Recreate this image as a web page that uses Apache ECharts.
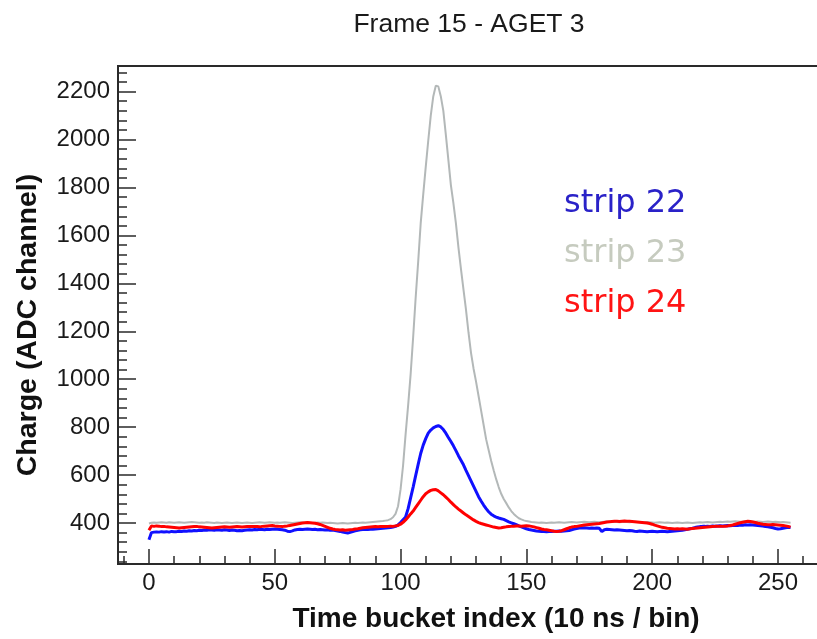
<!DOCTYPE html>
<html>
<head>
<meta charset="utf-8">
<script src="https://cdn.jsdelivr.net/npm/echarts@6/dist/echarts.min.js"></script>
<style>
  html, body { margin: 0; padding: 0; background: #ffffff; }
  #chart { width: 817px; height: 639px; }
</style>
</head>
<body>
<div id="chart"></div>
<script>
// ---- Data ----
const chartTitle = 'Frame 15 - AGET 3';
const xTitle = 'Time bucket index (10 ns / bin)';
const yTitle = 'Charge (ADC channel)';
const seriesNames = ['strip 22', 'strip 23', 'strip 24'];

const xTickLabels = [0, 50, 100, 150, 200, 250];
const xMinorTicks = [-10, 0, 10, 20, 30, 40, 50, 60, 70, 80, 90, 100, 110, 120, 130, 140, 150, 160, 170, 180, 190, 200, 210, 220, 230, 240, 250, 260];
const yTickLabels = [400, 600, 800, 1000, 1200, 1400, 1600, 1800, 2000, 2200];
const yMinorTicks = [240, 280, 320, 360, 400, 440, 480, 520, 560, 600, 640, 680, 720, 760, 800, 840, 880, 920, 960, 1000, 1040, 1080, 1120, 1160, 1200, 1240, 1280, 1320, 1360, 1400, 1440, 1480, 1520, 1560, 1600, 1640, 1680, 1720, 1760, 1800, 1840, 1880, 1920, 1960, 2000, 2040, 2080, 2120, 2160, 2200, 2240, 2280];

// strip 22 (blue), time buckets 0..255
const strip22 = [
  330, 360, 362, 363, 362, 364, 363, 364, 362, 365,
  364, 364, 366, 365, 367, 366, 368, 367, 369, 368,
  370, 369, 371, 370, 372, 371, 370, 372, 371, 370,
  372, 371, 369, 371, 370, 368, 369, 368, 370, 371,
  372, 371, 373, 372, 374, 373, 372, 374, 373, 374,
  375, 374, 373, 372, 370, 366, 364, 367, 371, 373,
  374, 373, 374, 375, 374, 373, 374, 372, 373, 372,
  371, 372, 370, 371, 369, 367, 365, 362, 360, 358,
  361, 364, 367, 370, 372, 373, 374, 373, 374, 374,
  375, 376, 377, 378, 379, 380, 381, 383, 386, 392,
  402, 414, 425, 460, 505, 550, 598, 645, 690, 725,
  752, 775, 788, 797, 803, 806, 801, 790, 775, 757,
  740, 722, 702, 681, 662, 643, 620, 598, 576, 554,
  532, 510, 492, 475, 460, 447, 437, 430, 425, 421,
  418, 415, 410, 405, 401, 397, 393, 388, 384, 380,
  376, 373, 371, 369, 367, 366, 365, 365, 364, 365,
  365, 366, 366, 367, 366, 367, 368, 369, 372, 375,
  377, 379, 379, 380, 379, 378, 379, 378, 379, 378,
  364, 372, 374, 373, 372, 371, 372, 371, 370, 369,
  368, 369, 368, 366, 365, 367, 366, 365, 364, 365,
  366, 365, 364, 365, 366, 365, 364, 365, 366, 367,
  368, 369, 370, 372, 374, 376, 378, 381, 383, 385,
  386, 386, 387, 386, 388, 387, 388, 389, 388, 389,
  390, 389, 390, 391, 390, 392, 391, 393, 392, 393,
  392, 391, 390, 389, 387, 385, 384, 382, 380, 377,
  375, 376, 378, 380, 382, 381
];

// strip 23 (grey)
const strip23 = [
  398, 401, 402, 401, 402, 403, 402, 401, 403, 402,
  401, 402, 403, 402, 401, 402, 403, 404, 403, 402,
  401, 402, 401, 403, 402, 401, 400, 402, 401, 400,
  401, 402, 401, 400, 401, 402, 401, 400, 401, 402,
  401, 400, 401, 402, 403, 402, 401, 402, 403, 402,
  401, 402, 401, 402, 403, 402, 401, 400, 401, 402,
  403, 402, 401, 402, 401, 400, 401, 402, 401, 402,
  401, 400, 401, 400, 399, 398, 399, 400, 399, 398,
  399, 400, 401, 400, 401, 402, 401, 402, 403, 404,
  405, 406, 407, 408, 410, 412, 416, 424, 438, 470,
  540, 640, 770, 890, 1020, 1175, 1340, 1490, 1650, 1770,
  1885, 1995, 2100, 2180, 2225, 2222, 2180, 2120, 2020, 1915,
  1810, 1735, 1650, 1550, 1460, 1375, 1290, 1195, 1110, 1045,
  990, 930, 870, 810, 750, 705, 660, 620, 583, 550,
  522, 500, 483, 465, 450, 438, 428, 420, 415, 411,
  408, 406, 404, 403, 402, 401, 402, 401, 400, 401,
  402, 401, 402, 403, 402, 401, 402, 403, 404, 403,
  402, 403, 404, 405, 404, 403, 404, 405, 404, 403,
  404, 405, 406, 405, 404, 405, 404, 403, 404, 405,
  404, 403, 404, 405, 404, 403, 402, 403, 404, 403,
  402, 401, 402, 403, 402, 401, 402, 401, 400, 401,
  402, 401, 400, 401, 402, 401, 400, 401, 402, 403,
  402, 403, 404, 403, 402, 403, 404, 405, 404, 405,
  406, 405, 406, 407, 406, 405, 406, 407, 408, 407,
  406, 405, 406, 405, 404, 405, 406, 405, 404, 405,
  404, 403, 404, 403, 402, 401
];

// strip 24 (red)
const strip24 = [
  370, 388, 386, 388, 387, 385, 386, 384, 383, 382,
  381, 380, 379, 380, 381, 382, 383, 384, 385, 386,
  384, 383, 382, 381, 380, 379, 380, 381, 382, 383,
  384, 383, 382, 383, 384, 385, 384, 383, 384, 385,
  386, 385, 386, 385, 384, 386, 387, 388, 389, 390,
  388, 387, 386, 385, 387, 388, 390, 392, 394, 396,
  398, 400, 401, 402, 401, 400, 399, 397, 394, 390,
  386, 382, 378, 375, 373, 372, 371, 372, 370, 371,
  372, 373, 375, 376, 378, 380, 381, 382, 383, 384,
  385, 384, 385, 386, 385, 386, 387, 386, 388, 390,
  395, 403, 413, 425, 438, 450, 465, 480, 495, 510,
  522, 530, 536, 539, 540, 534, 526, 518, 508, 498,
  487, 477, 467, 458, 450, 442, 434, 427, 420, 413,
  407, 402, 398, 395, 392, 389, 386, 383, 381, 379,
  380, 382, 384, 385, 386, 387, 388, 388, 387, 388,
  389, 388, 386, 384, 381, 378, 375, 373, 372, 370,
  368, 366, 365, 366, 368, 372, 376, 380, 383, 385,
  386, 388, 390, 392, 393, 394, 395, 396, 397, 398,
  400, 402, 404, 405, 406, 407, 407, 406, 407, 408,
  407, 407, 406, 405, 404, 403, 402, 401, 400, 398,
  395, 391, 388, 385, 382, 380, 378, 377, 376, 375,
  376, 375, 376, 375, 374, 376, 377, 378, 379, 380,
  381, 382, 383, 384, 385, 386, 386, 387, 386, 387,
  388, 390, 392, 395, 398, 401, 403, 405, 407, 406,
  404, 402, 399, 397, 395, 394, 393, 393, 394, 393,
  392, 391, 390, 388, 386, 383
];

// ---- Build chart ----
const toPairs = arr => arr.map((v, i) => [i, v]);
const axisColor = '#2a2a2a';
const labelFont = { fontFamily: 'Liberation Sans, Arial, sans-serif', fontSize: 24, color: '#1a1a1a' };
const plainNumber = v => String(v);
const xRange = { min: -12.3, max: 267.1 };
const yRange = { min: 229, max: 2307 };

const chart = echarts.init(document.getElementById('chart'), null, { renderer: 'canvas' });

chart.setOption({
  animation: false,
  backgroundColor: '#ffffff',
  grid: {
    left: 118, right: -4, top: 66, bottom: 75,
    show: true, borderColor: axisColor, borderWidth: 2,
    backgroundColor: 'transparent',
    outerBoundsMode: 'none',
    containLabel: false
  },
  legend: {
    orient: 'vertical',
    left: 554, top: 181,
    icon: 'none', itemWidth: 0, itemHeight: 36, itemGap: 14,
    selectedMode: false,
    textStyle: { fontFamily: 'DejaVu Sans', fontSize: 32, lineHeight: 36 },
    data: [
      { name: seriesNames[0], textStyle: { color: '#2a22c8' } },
      { name: seriesNames[1], textStyle: { color: '#c6cbbf' } },
      { name: seriesNames[2], textStyle: { color: '#ff1414' } }
    ]
  },
  xAxis: [
    {
      type: 'value', position: 'bottom', ...xRange,
      axisLine: { show: true, onZero: false, lineStyle: { color: axisColor, width: 2 } },
      axisTick: { show: true, inside: true, length: 15, customValues: xTickLabels, lineStyle: { color: axisColor, width: 1.5 } },
      axisLabel: { show: true, margin: 7, customValues: xTickLabels, formatter: plainNumber, ...labelFont },
      splitLine: { show: false }
    },
    {
      type: 'value', position: 'bottom', ...xRange,
      axisLine: { show: false, onZero: false },
      axisTick: { show: true, inside: true, length: 8, customValues: xMinorTicks, lineStyle: { color: axisColor, width: 1.5 } },
      axisLabel: { show: false },
      splitLine: { show: false }
    }
  ],
  yAxis: [
    {
      type: 'value', position: 'left', ...yRange,
      axisLine: { show: true, onZero: false, lineStyle: { color: axisColor, width: 2 } },
      axisTick: { show: true, inside: true, length: 18, customValues: yTickLabels, lineStyle: { color: axisColor, width: 1.5 } },
      axisLabel: { show: true, margin: 8, customValues: yTickLabels, formatter: plainNumber, ...labelFont },
      splitLine: { show: false }
    },
    {
      type: 'value', position: 'left', ...yRange,
      axisLine: { show: false, onZero: false },
      axisTick: { show: true, inside: true, length: 9, customValues: yMinorTicks, lineStyle: { color: axisColor, width: 1.5 } },
      axisLabel: { show: false },
      splitLine: { show: false }
    }
  ],
  series: [
    {
      name: seriesNames[1], type: 'line', xAxisIndex: 0, yAxisIndex: 0,
      data: toPairs(strip23), showSymbol: false, z: 2,
      lineStyle: { color: '#b3b8b8', width: 2 }, itemStyle: { color: '#b3b8b8' }
    },
    {
      name: seriesNames[0], type: 'line', xAxisIndex: 0, yAxisIndex: 0,
      data: toPairs(strip22), showSymbol: false, z: 3,
      lineStyle: { color: '#1010ff', width: 3 }, itemStyle: { color: '#1010ff' }
    },
    {
      name: seriesNames[2], type: 'line', xAxisIndex: 0, yAxisIndex: 0,
      data: toPairs(strip24), showSymbol: false, z: 4,
      lineStyle: { color: '#ff0000', width: 3 }, itemStyle: { color: '#ff0000' }
    }
  ],
  graphic: [
    {
      type: 'text', x: 469, y: 25,
      style: { text: chartTitle, align: 'center', verticalAlign: 'middle',
               font: '26.5px "Liberation Sans", Arial, sans-serif', fill: '#1a1a1a' }
    },
    {
      type: 'text', x: 496, y: 619,
      style: { text: xTitle, align: 'center', verticalAlign: 'middle',
               font: 'bold 28px "Liberation Sans", Arial, sans-serif', fill: '#111111' }
    },
    {
      type: 'text', x: 28, y: 325, rotation: Math.PI / 2,
      style: { text: yTitle, align: 'center', verticalAlign: 'middle',
               font: 'bold 28.5px "Liberation Sans", Arial, sans-serif', fill: '#111111' }
    }
  ]
});
</script>
</body>
</html>
